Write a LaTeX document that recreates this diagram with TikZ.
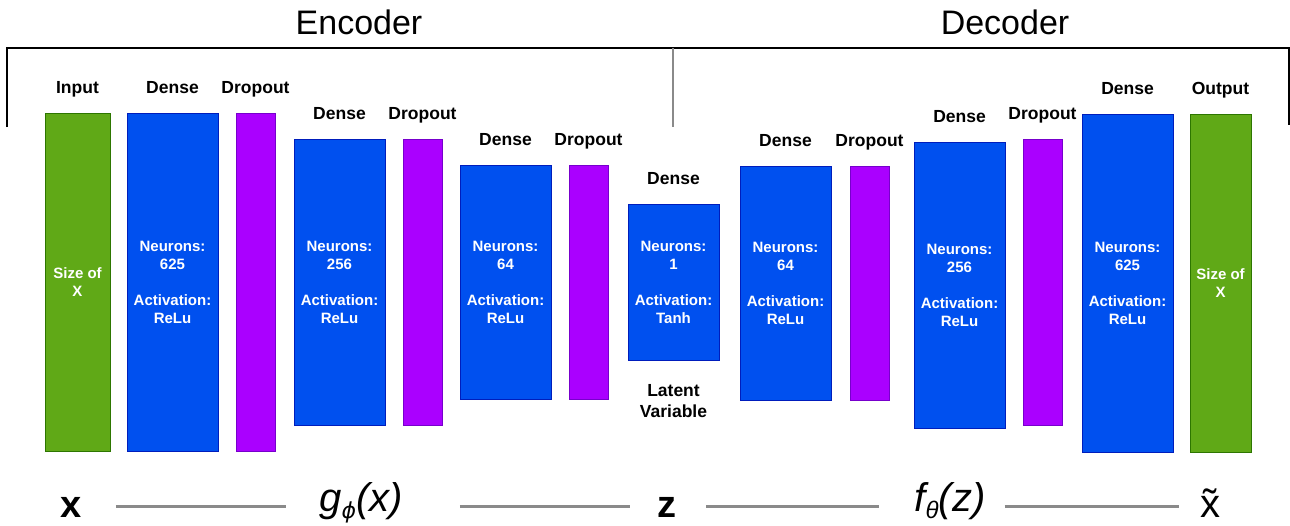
\documentclass[tikz,border=0pt]{standalone}
\usepackage{fontspec}
\setmainfont{Liberation Sans}
\newfontfamily\phifont{DejaVu Sans}
\usetikzlibrary{positioning}
\definecolor{denseblue}{HTML}{0050EF}
\definecolor{denseedge}{HTML}{001DBC}
\definecolor{droppurple}{HTML}{AA00FF}
\definecolor{dropedge}{HTML}{7700CC}
\definecolor{iogreen}{HTML}{60A917}
\definecolor{ioedge}{HTML}{2D7600}
\definecolor{linkgray}{HTML}{8A8A8A}
\begin{document}
\begin{tikzpicture}[x=1pt,y=-1pt,label distance=14.5pt,
	layer/.style={draw,line width=1pt,inner sep=0pt,text=white,align=center,font=\fontsize{15}{18}\selectfont\bfseries},
	dense/.style={layer,fill=denseblue,draw=denseedge,minimum width=91pt},
	drop/.style={layer,fill=droppurple,draw=dropedge,minimum width=39pt},
	io/.style={layer,fill=iogreen,draw=ioedge,minimum width=65pt},
	every label/.style={font=\fontsize{17.5}{21}\selectfont\bfseries,inner sep=0pt,text height=13pt,text depth=4pt},
	title/.style={font=\fontsize{34}{40}\selectfont,inner sep=0pt},
	sym/.style={anchor=base,inner sep=0pt,text height=22pt,text depth=0pt},
	fun/.style={sym,text height=10pt,font=\fontsize{40}{40}\selectfont\itshape},
	link/.style={draw=linkgray,line width=3pt}]
\useasboundingbox (0,0) rectangle (1290,525);
\draw[line width=1.5pt] (7,127) -- (7,48) -- (1289,48) -- (1289,125);
\draw[linkgray,line width=2.5pt] (673,48) -- (673,127);
\node[title] (enc) at (359,22) {Encoder};
\node[title] (dec) at (1005,22) {Decoder};
\node[io,minimum height=338pt,label=above:Input] (in) at (77.5,282) {Size of\\X};
\node[dense,minimum height=338pt,label=above:Dense] (d1) at (172.5,282) {Neurons:\\625\\[18pt]Activation:\\ReLu};
\node[drop,minimum height=338pt,label=above:Dropout] (p1) at (255.5,282) {};
\node[dense,minimum height=286pt,label=above:Dense] (d2) at (339.5,282) {Neurons:\\256\\[18pt]Activation:\\ReLu};
\node[drop,minimum height=286pt,label=above:Dropout] (p2) at (422.5,282) {};
\node[dense,minimum height=234pt,label=above:Dense] (d3) at (505.5,282) {Neurons:\\64\\[18pt]Activation:\\ReLu};
\node[drop,minimum height=234pt,label=above:Dropout] (p3) at (588.5,282) {};
\node[dense,minimum height=156pt,label=above:Dense] (dz) at (673.5,282) {Neurons:\\1\\[18pt]Activation:\\Tanh};
\node[below=23.5pt of dz,inner sep=0pt,align=center,font=\fontsize{17.5}{21}\selectfont\bfseries] (lat) {Latent\\Variable};
\node[dense,minimum height=234pt,label=above:Dense] (d4) at (785.5,283) {Neurons:\\64\\[18pt]Activation:\\ReLu};
\node[drop,minimum height=234pt,label=above:Dropout] (p4) at (869.5,283) {};
\node[dense,minimum height=286pt,label=above:Dense] (d5) at (959.5,285) {Neurons:\\256\\[18pt]Activation:\\ReLu};
\node[drop,minimum height=286pt,label=above:Dropout] (p5) at (1042.5,282) {};
\node[dense,minimum height=338pt,label=above:Dense] (d6) at (1127.5,283) {Neurons:\\625\\[18pt]Activation:\\ReLu};
\node[io,minimum width=61pt,minimum height=338pt,label=above:Output] (out) at (1220.5,283) {Size of\\X};
\node[sym,font=\fontsize{38}{40}\selectfont\bfseries] (x) at (71,517) {x};
\node[fun] (g) at (361,511) {g\raisebox{-7pt}{\phifont\itshape\fontsize{22}{22}\selectfont ϕ}(x)};
\node[sym,font=\fontsize{38}{40}\selectfont\bfseries] (z) at (667,517) {z};
\node[fun] (f) at (950,511) {f\raisebox{-7pt}{\fontsize{24}{24}\selectfont θ}(z)};
\node[sym,font=\fontsize{40}{40}\selectfont] (xt) at (1210,517) {x̃};
\draw[link,shorten <=34pt,shorten >=33pt] (x) -- (g);
\draw[link,shorten <=57pt,shorten >=27.5pt] (g) -- (z);
\draw[link,shorten <=29.5pt,shorten >=35pt] (z) -- (f);
\draw[link,shorten <=19pt,shorten >=21pt] (f) -- (xt);
\end{tikzpicture}
\end{document}
